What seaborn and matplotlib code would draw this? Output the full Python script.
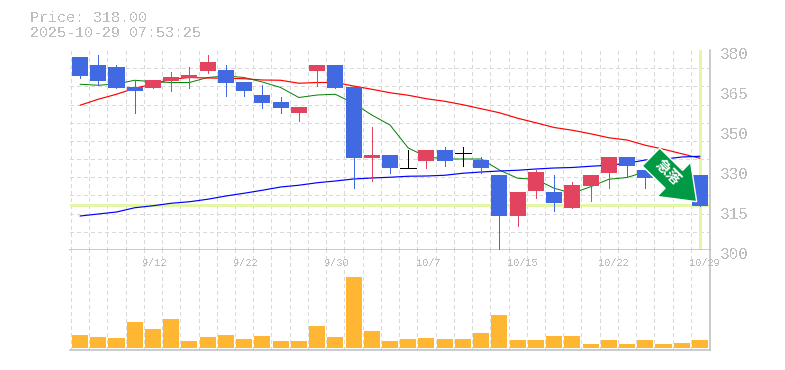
import matplotlib
matplotlib.use('Agg')
import matplotlib.pyplot as plt
import matplotlib.transforms as mtrans
from matplotlib.patches import FancyArrow
import numpy as np
import pandas as pd
import seaborn as sns

# daily candles
opens = [377.2, 374, 373.2, 365.2, 364.8, 367.6, 368.7, 371.6, 372, 367.2, 362, 359.2,
         354.8, 371.6, 374, 365.2, 336.8, 338, 333, 335.6, 340, 338.8, 336, 330,
         313.6, 323.6, 323.2, 316.8, 325.6, 330.8, 337.2, 332, 331, 329, 330]
closes = [369.6, 367.6, 364.8, 363.6, 368, 369.2, 370, 375.2, 366.8, 363.6, 358.8, 356.8,
          357.2, 374, 364.8, 336.8, 338, 332.8, 333, 340, 335.6, 338.8, 332.8, 313.6,
          323.2, 331.2, 318.8, 326, 330, 337.2, 333.6, 328.8, 329, 326, 317.6]
highs = [377.2, 378, 374, 368, 368, 371.2, 373.2, 378, 374, 367.2, 366, 361.2,
         357.2, 374, 374, 365.2, 349.2, 338, 340, 340, 341.2, 341.2, 337.2, 330,
         323.2, 332, 330, 327.2, 330, 337.2, 337.2, 332, 331, 329, 330]
lows = [368.8, 366, 364.8, 354.8, 364.8, 363.6, 364.8, 370.8, 361.6, 361.6, 356.8, 354.8,
        351.6, 365.6, 364.8, 324.8, 327.6, 330.8, 333, 332.8, 333.6, 333.6, 330.8, 299.6,
        309.6, 320.8, 315.8, 316.8, 319.6, 324.8, 329.6, 324.8, 327, 325, 317.6]
volumes = [13, 11, 10, 26, 19, 29, 7, 11, 13, 9, 12, 7, 7, 22, 11, 71, 17, 7,
           9, 10, 9, 9, 15, 33, 8, 8, 12, 12, 4, 8, 4, 8, 4, 5, 8]

# moving averages, the short one ends behind the arrow
ma_short = [366.3, 365.9, 366.4, 367.9, 367.3, 367, 367, 369, 369.6, 369, 367.2, 365,
            361, 362, 362.3, 358.7, 354, 350, 340.8, 337.3, 336.4, 336.4, 336.4, 332,
            328.7, 328.3, 324.7, 322.7, 325.3, 328.3, 329, 331.3, 332, 332.5, None]
ma_mid = [357.9, 360.3, 362.3, 364.7, 366.4, 368.3, 369, 368.8, 368.7, 368.5, 368, 367.9,
          366.7, 367, 367, 365.6, 364.3, 362.9, 361.9, 360.5, 359.5, 358.1, 356.5, 354.9,
          352.7, 350.9, 349, 347.9, 346.5, 344.9, 344, 341.9, 340.3, 338.5, 336.7]
ma_long = [313.6, 314.4, 315.2, 316.9, 317.7, 318.7, 319.3, 320.3, 321.6, 322.7, 323.9, 325.2,
           325.9, 326.9, 327.6, 328.4, 328.8, 329.1, 329.5, 329.6, 329.9, 330.7, 331.2, 331.6,
           331.9, 332.4, 332.8, 333, 333.5, 333.9, 334.7, 336, 336.3, 337.2, 337.5]

date_pos = [4, 9, 14, 19, 24, 29, 34]
date_labels = ['9/12', '9/22', '9/30', '10/7', '10/15', '10/22', '10/29']
price_ticks = [380, 364, 348, 332, 316, 300]
price_labels = ['380', '365', '350', '330', '315', '300']
last_price = 318

df = pd.DataFrame({'day': range(len(opens)), 'open': opens, 'close': closes, 'high': highs,
                   'low': lows, 'volume': volumes, 'short': ma_short, 'mid': ma_mid, 'long': ma_long})
df['short'] = df['short'].astype(float)

sns.set_theme(style='white')
plt.rcParams['font.family'] = ['Liberation Mono', 'Noto Sans CJK JP', 'DejaVu Sans']
# the reference is drawn without smoothing
plt.rcParams['text.antialiased'] = False
plt.rcParams['lines.antialiased'] = False

UP = '#e2445f'
DOWN = '#4169e1'
FLAT = 'black'
GRID = '#d9d9d9'
AXIS = '#bdbdbd'
TEXT = '#bdbdbd'
LIME = '#e4f7a8'
PX = 0.72

W, H = 785, 370
fig = plt.figure(figsize=(W / 100, H / 100), dpi=100)
ax = fig.add_axes([70 / W, 1 - 250 / H, 640 / W, 200 / H])
vax = fig.add_axes([70 / W, 1 - 350 / H, 640 / W, 100 / H])

xlim = (-0.55, 34.55)

for a in (ax, vax):
    a.set_xlim(xlim)
    a.set_xticks(np.arange(0, 35) - 0.5)
    a.tick_params(axis='x', length=0, labelbottom=False)
    a.grid(axis='x', color=GRID, lw=PX, ls=(0, (3.5, 3.5)))
    a.set_axisbelow(True)
    for s in a.spines.values():
        s.set_visible(False)
    a.spines['right'].set_visible(True)
    a.spines['right'].set_color(AXIS)
    a.spines['bottom'].set_visible(True)
    a.spines['bottom'].set_color(AXIS)
    a.spines['right'].set_linewidth(1.1)
    a.spines['bottom'].set_linewidth(1.1)

# price panel
ax.set_ylim(300, 380)
ax.set_yticks(np.linspace(300, 380, 12), minor=True)
ax.grid(axis='y', which='minor', color=GRID, lw=PX, ls=(0, (3.5, 3.5)))
ax.set_yticks(price_ticks)
ax.set_yticklabels(price_labels, fontsize=11.5, color=TEXT)
ax.yaxis.tick_right()
ax.tick_params(axis='y', which='both', length=0, pad=7)
shift = mtrans.ScaledTranslation(0, -3 / 100, fig.dpi_scale_trans)
for lab in ax.get_yticklabels():
    lab.set_transform(lab.get_transform() + shift)

ax.axhline(last_price, color=LIME, lw=2.1, zorder=1, xmax=0.997)
ax.plot([df['day'].iloc[-1]] * 2, [300.8, 379.6], color=LIME, lw=2.1, zorder=1)

# averages go under the candles, thin and smoothed or they come out too heavy
sns.lineplot(data=df, x='day', y='short', ax=ax, color='green', lw=0.7, zorder=2, antialiased=True)
sns.lineplot(data=df, x='day', y='mid', ax=ax, color='red', lw=0.85, zorder=2, antialiased=True)
sns.lineplot(data=df, x='day', y='long', ax=ax, color='blue', lw=0.85, zorder=2, antialiased=True)
ax.set_xlabel('')
ax.set_ylabel('')
ax.set_xlim(xlim)
ax.set_ylim(300, 380)

for _, r in df.iterrows():
    if r['open'] == r['close']:
        c = FLAT
    elif r['close'] > r['open']:
        c = UP
    else:
        c = DOWN
    ax.plot([r['day'], r['day']], [r['low'], r['high']], color=c, lw=PX, zorder=3, solid_capstyle='butt')
    if c == FLAT:
        ax.plot([r['day'] - 0.44, r['day'] + 0.44], [r['close'], r['close']], color=c, lw=PX, zorder=3,
                solid_capstyle='butt')
    else:
        ax.bar(r['day'], abs(r['close'] - r['open']), bottom=min(r['open'], r['close']), width=0.88,
               color=c, lw=0, zorder=3)
ax.set_xlim(xlim)
ax.set_ylim(300, 380)

# volume panel
sns.barplot(data=df, x='day', y='volume', ax=vax, native_scale=True, color='#ffb733', width=0.88,
            saturation=1, lw=0, zorder=3)
vax.set_xlim(xlim)
vax.set_ylim(-2, 98)
vax.set_yticks([])
vax.set_xlabel('')
vax.set_ylabel('')

for pos, lab in zip(date_pos, date_labels):
    vax.annotate(lab, (pos, 98), xytext=(-7.6, -9.5), textcoords='offset points', ha='left', va='center',
                 fontsize=7.4, color=TEXT, annotation_clip=False, zorder=5)

# header
fig.text(30 / W, 1 - 18 / H, 'Price: 318.00', fontsize=10.8, color=TEXT, va='center')
fig.text(30 / W, 1 - 33 / H, '2025-10-29 07:53:25', fontsize=10.8, color=TEXT, va='center')

# signal arrow, placed in figure pixels
sx, sy, ex, ey = 651, H - 157, 696.7, H - 201.7
arrow = FancyArrow(sx, sy, ex - sx, ey - sy, width=25, head_width=48, head_length=32,
                   length_includes_head=True, facecolor='#009944', edgecolor='white', lw=1,
                   transform=mtrans.IdentityTransform(), zorder=10)
fig.add_artist(arrow)
fig.text(667 / W, 1 - 172.5 / H, '急落', fontsize=10.5, color='white', rotation=-45, rotation_mode='anchor',
         ha='center', va='center', fontweight='bold', zorder=11, antialiased=True)

fig.savefig('out.png', dpi=100)
